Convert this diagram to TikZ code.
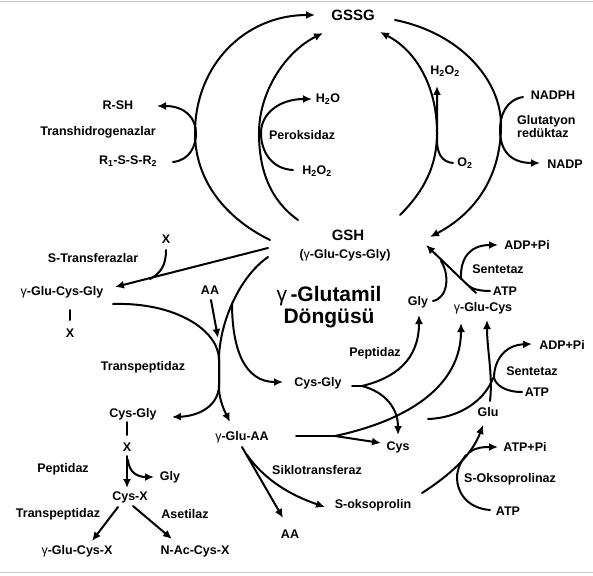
\documentclass[tikz,border=0pt]{standalone}
\usepackage{fontspec}
\setmainfont{Liberation Sans}
\usetikzlibrary{arrows.meta}
\begin{document}
\begin{tikzpicture}[x=1pt,y=-1pt,
  lbl/.style={font=\fontsize{12.5}{14}\selectfont\bfseries, inner sep=0pt},
  big/.style={font=\fontsize{15}{17}\selectfont\bfseries, inner sep=0pt},
  huge/.style={font=\fontsize{21}{25}\selectfont\bfseries, inner sep=0pt, align=center},
  ln/.style={line width=2pt, line cap=round},
  arr/.style={ln, -{Latex[length=9pt,width=8pt]}},
  frame/.style={draw=black!22, line width=1pt}
]
\useasboundingbox (0,0) rectangle (593,575);
\draw[frame] (0,2) -- (593,2);
\draw[frame] (0,572.5) -- (593,572.5);

% ---------- labels ----------
\node[big] (GSSG) at (353,15) {GSSG};
\node[lbl] (RSH) at (118,105) {R-SH};
\node[lbl] (TH) at (98,132) {Transhidrogenazlar};
\node[lbl] (RSSR) at (128,161) {R\textsubscript{1}-S-S-R\textsubscript{2}};
\node[lbl] (Perox) at (302,135) {Peroksidaz};
\node[lbl] (H2O) at (328,99) {H\textsubscript{2}O};
\node[lbl] (H2O2a) at (317,171) {H\textsubscript{2}O\textsubscript{2}};
\node[lbl] (H2O2b) at (445,71) {H\textsubscript{2}O\textsubscript{2}};
\node[lbl] (O2) at (465,163) {O\textsubscript{2}};
\node[lbl] (NADPH) at (553,95) {NADPH};
\node[lbl, anchor=west, align=left] (GR) at (517,127) {Glutatyon\\[-1pt]redüktaz};
\node[lbl] (NADP) at (565,164) {NADP};
\node[big] (GSH) at (348,235) {GSH};
\node[lbl] (GSHsub) at (345,255) {({\mdseries γ}-Glu-Cys-Gly)};
\node[huge] (Cycle) at (329,307) {{\mdseries γ}\,-Glutamil\\[-3pt]Döngüsü};
\node[lbl] (X1) at (166,239) {X};
\node[lbl] (STr) at (93,258) {S-Transferazlar};
\node[lbl] (GCG) at (62,292) {{\mdseries γ}-Glu-Cys-Gly};
\node[lbl] (X2) at (70,333) {X};
\node[lbl] (AA1) at (210,290) {AA};
\node[lbl] (TP1) at (143,367) {Transpeptidaz};
\node[lbl] (CG1) at (133,414) {Cys-Gly};
\node[lbl] (X3) at (127,447) {X};
\node[lbl] (Pep1) at (63,469) {Peptidaz};
\node[lbl] (Gly1) at (170,477) {Gly};
\node[lbl] (CysX) at (130,497) {Cys-X};
\node[lbl] (TP2) at (58,514) {Transpeptidaz};
\node[lbl] (Aset) at (185,514) {Asetilaz};
\node[lbl] (GCX) at (77,551) {{\mdseries γ}-Glu-Cys-X};
\node[lbl] (NAc) at (195,551) {N-Ac-Cys-X};
\node[lbl] (GAA) at (242,437) {{\mdseries γ}-Glu-AA};
\node[lbl] (AA2) at (290,534) {AA};
\node[lbl] (Siklo) at (317,470) {Siklotransferaz};
\node[lbl] (Sokso) at (373,505) {S-oksoprolin};
\node[lbl] (CG2) at (318,383) {Cys-Gly};
\node[lbl] (Pep2) at (375,353) {Peptidaz};
\node[lbl] (Cys) at (398,447) {Cys};
\node[lbl] (Gly2) at (418,302) {Gly};
\node[lbl] (GC) at (483,308) {{\mdseries γ}-Glu-Cys};
\node[lbl] (ATP1) at (505,291) {ATP};
\node[lbl] (Sent1) at (498,269) {Sentetaz};
\node[lbl] (ADP1) at (527,245) {ADP+Pi};
\node[lbl] (Glu) at (488,412) {Glu};
\node[lbl] (ADP2) at (562,345) {ADP+Pi};
\node[lbl] (Sent2) at (532,371) {Sentetaz};
\node[lbl] (ATP2) at (537,392) {ATP};
\node[lbl] (ATPPi) at (525,447) {ATP+Pi};
\node[lbl] (SOkz) at (510,479) {S-Oksoprolinaz};
\node[lbl] (ATP3) at (508,511) {ATP};

% ---------- top cycle ----------
\coordinate (oLs) at (270,240); \coordinate (oLe) at (315,15);
\draw[arr] (oLs) .. controls (225,218) and (195,180) .. (195,133)
  .. controls (195,65) and (245,15) .. (oLe);
\coordinate (iLs) at (298,220); \coordinate (iLe) at (323,33);
\draw[arr] (iLs) .. controls (270,200) and (259,170) .. (259,133)
  .. controls (259,92) and (285,52) .. (iLe);
\coordinate (pxs) at (293,170); \coordinate (pxe) at (312,99);
\draw[arr] (pxs) .. controls (272,169) and (261,152) .. (261,133)
  .. controls (261,113) and (280,99) .. (pxe);
\coordinate (rss) at (173,162); \coordinate (rse) at (157,106);
\draw[arr] (rss) .. controls (190,160) and (196,146) .. (196,133)
  .. controls (196,118) and (185,106) .. (rse);
\coordinate (oRs) at (395,20); \coordinate (oRe) at (430,237);
\draw[arr] (oRs) .. controls (460,33) and (501,80) .. (501,125)
  .. controls (501,180) and (472,215) .. (oRe);
\coordinate (iRs) at (400,215); \coordinate (iRe) at (380,32);
\draw[arr] (iRs) .. controls (425,190) and (437,165) .. (437,133)
  .. controls (437,85) and (415,50) .. (iRe);
\coordinate (o2s) at (453,163); \coordinate (o2e) at (437,86);
\draw[arr] (o2s) .. controls (441,162) and (437,152) .. (437,140) -- (o2e);
\coordinate (nds) at (523,97); \coordinate (nde) at (540,163);
\draw[arr] (nds) .. controls (506,100) and (500,115) .. (500,130)
  .. controls (500,150) and (510,163) .. (nde);

% ---------- S-transferase ----------
\coordinate (sts) at (268,248); \coordinate (ste) at (115,287);
\draw[arr] (sts) -- (ste);
\coordinate (xs) at (166,250); \coordinate (xe) at (150,279);
\draw[ln] (xs) .. controls (166,265) and (161,273) .. (xe);
\draw[ln] (70,310) -- (70,320);

% ---------- transpeptidase crossing ----------
\coordinate (tps) at (113,304); \coordinate (tpe) at (172,417);
\draw[arr] (tps) .. controls (175,302) and (219,330) .. (219,360) -- (219,385)
  .. controls (219,405) and (200,416) .. (tpe);
\coordinate (gss) at (268,257); \coordinate (gse) at (230,422);
\draw[arr] (gss) .. controls (238,278) and (219,325) .. (219,360) -- (219,390)
  .. controls (220,402) and (225,412) .. (gse);
\coordinate (aas) at (211,300); \coordinate (aae) at (218,338);
\draw[arr] (aas) -- (aae);
\coordinate (brs) at (232,303); \coordinate (bre) at (283,382);
\draw[arr] (brs) .. controls (232,350) and (245,382) .. (bre);

% ---------- Cys-Gly peptidase ----------
\coordinate (cgs) at (352,386); \coordinate (cgm) at (362,386);
\coordinate (cge) at (419,315); \coordinate (cye) at (398,435);
\draw[ln] (cgs) -- (cgm);
\draw[arr] (cgm) .. controls (395,378) and (419,360) .. (cge);
\draw[arr] (cgm) .. controls (385,392) and (398,408) .. (cye);

% ---------- gamma-Glu-AA to gamma-Glu-Cys ----------
\coordinate (gas) at (296,436); \coordinate (gam) at (335,436);
\coordinate (gae) at (461,323); \coordinate (gac) at (381,443);
\draw[ln] (gas) -- (gam);
\draw[arr] (gam) .. controls (410,420) and (461,385) .. (gae);
\draw[arr] (gam) -- (gac);
\coordinate (cjs) at (428,419); \coordinate (cje) at (493,378);
\draw[ln] (cjs) .. controls (460,418) and (485,400) .. (cje);
\coordinate (gls) at (490,401); \coordinate (gle) at (487,320);
\draw[arr] (gls) .. controls (493,375) and (487,350) .. (gle);
\coordinate (a2s) at (522,392); \coordinate (a2m) at (494,378); \coordinate (a2e) at (532,344);
\draw[ln] (a2s) .. controls (505,392) and (496,385) .. (a2m);
\draw[arr] (a2m) .. controls (494,360) and (505,345) .. (a2e);

% ---------- gamma-Glu-Cys to GSH ----------
\coordinate (dgs) at (476,293); \coordinate (dge) at (426,245);
\draw[arr] (dgs) -- (dge);
\coordinate (gys) at (433,301); \coordinate (gym) at (441,261);
\draw[ln] (gys) .. controls (448,298) and (450,275) .. (gym);
\coordinate (s1s) at (461,279); \coordinate (s1e) at (498,245);
\draw[arr] (s1s) .. controls (460,258) and (470,245) .. (s1e);
\coordinate (a1s) at (490,291); \coordinate (a1e) at (469,286);
\draw[ln] (a1s) .. controls (480,291) and (472,289) .. (a1e);

% ---------- lower center ----------
\coordinate (sks) at (247,455); \coordinate (ske) at (325,507);
\draw[arr] (sks) .. controls (265,480) and (290,495) .. (ske);
\coordinate (a2as) at (242,447); \coordinate (a2ae) at (283,518);
\draw[arr] (a2as) -- (a2ae);
\coordinate (sos) at (422,493); \coordinate (soe) at (483,425);
\draw[arr] (sos) .. controls (450,475) and (472,455) .. (soe);
\coordinate (aps) at (470,452); \coordinate (ape) at (498,447);
\draw[arr] (aps) .. controls (476,447) and (485,447) .. (ape);
\coordinate (a3s) at (490,510); \coordinate (a3e) at (466,455);
\draw[ln] (a3s) .. controls (465,508) and (457,490) .. (457,478)
  .. controls (457,468) and (462,460) .. (a3e);

% ---------- lower left ----------
\draw[ln] (127,422) -- (127,435);
\coordinate (x3s) at (127,456); \coordinate (x3e) at (127,488);
\draw[arr] (x3s) -- (x3e);
\coordinate (gls1) at (128,460); \coordinate (gle1) at (154,477);
\draw[arr] (gls1) .. controls (129,472) and (137,477) .. (gle1);
\coordinate (cxl) at (118,507); \coordinate (cxle) at (92,541);
\draw[arr] (cxl) -- (cxle);
\coordinate (cxr) at (133,506); \coordinate (cxre) at (172,539);
\draw[arr] (cxr) -- (cxre);
\end{tikzpicture}
\end{document}
